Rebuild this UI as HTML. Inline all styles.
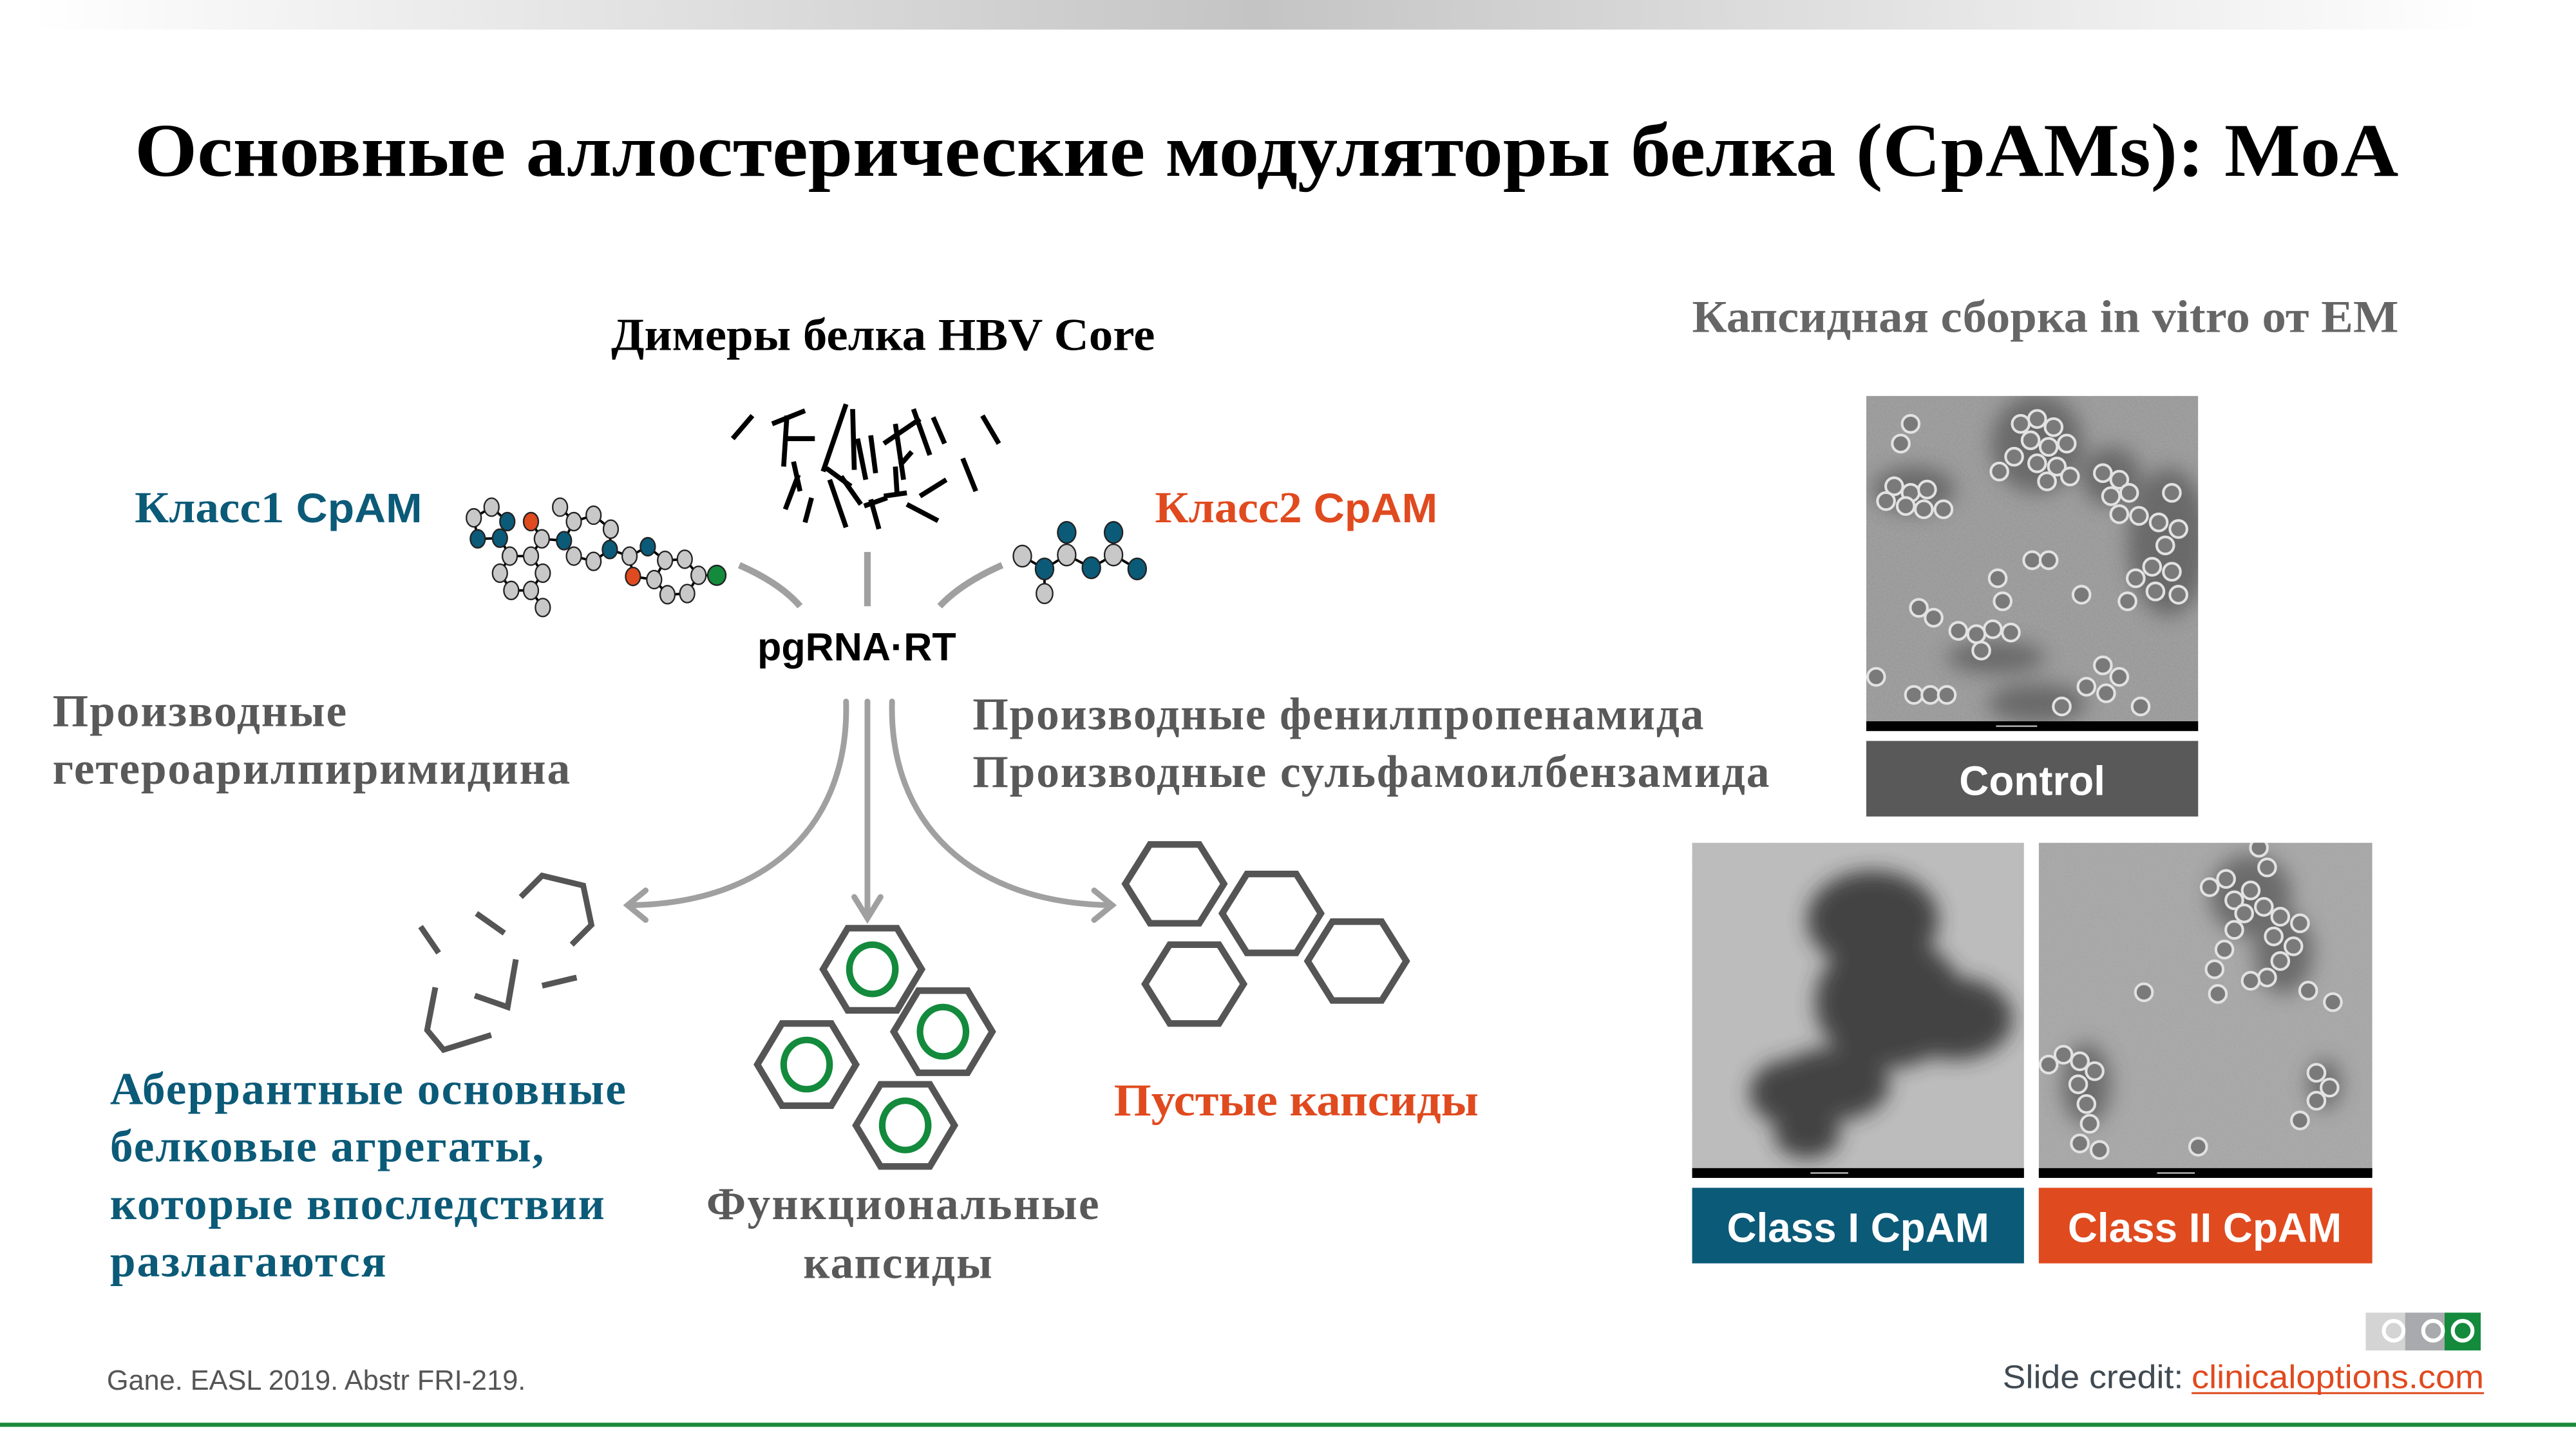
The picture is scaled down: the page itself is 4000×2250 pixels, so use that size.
<!DOCTYPE html>
<html><head><meta charset="utf-8"><style>
html,body{margin:0;padding:0;background:#fff;width:4000px;height:2250px;overflow:hidden}
svg{display:block}
.ser{font-family:"Liberation Serif",serif;font-weight:bold}
.san{font-family:"Liberation Sans",sans-serif;font-weight:bold}
</style></head><body>
<svg width="4000" height="2250" viewBox="0 0 1568 882" xmlns="http://www.w3.org/2000/svg">
<defs>
<linearGradient id="tg" x1="0" x2="1" y1="0" y2="0">
<stop offset="0" stop-color="#fff"/><stop offset="0.5" stop-color="#c4c4c4"/><stop offset="1" stop-color="#fff"/>
</linearGradient>
<filter id="noise" x="0" y="0" width="100%" height="100%">
<feTurbulence type="fractalNoise" baseFrequency="0.9" numOctaves="2" seed="3"/>
<feColorMatrix type="matrix" values="0 0 0 0 0.5  0 0 0 0 0.5  0 0 0 0 0.5  0 0 0 0.35 0"/>
</filter>
<filter id="blur6"><feGaussianBlur stdDeviation="6"/></filter>
<clipPath id="c1"><rect x="1136" y="241" width="202" height="198"/></clipPath>
<clipPath id="c2"><rect x="1030" y="513" width="202" height="198"/></clipPath>
<clipPath id="c3"><rect x="1241" y="513" width="203" height="198"/></clipPath>
<g id="cap"><circle r="5.2" fill="#7a7a7a" stroke="#e2e2e2" stroke-width="1.6"/></g>
</defs>

<rect x="20" y="0" width="1490" height="18" fill="url(#tg)"/>

<text class="ser" x="82" y="107" font-size="46" textLength="1378" lengthAdjust="spacingAndGlyphs" fill="#000">Основные аллостерические модуляторы белка (CpAMs): MoA</text>

<text class="ser" x="372" y="213" font-size="28" textLength="331" lengthAdjust="spacingAndGlyphs" fill="#000">Димеры белка HBV Core</text>

<!-- dimer sticks -->
<g stroke="#000" stroke-width="3" stroke-linecap="butt">
<line x1="458" y1="253" x2="446" y2="267"/>
<line x1="470" y1="258" x2="490" y2="250"/>
<line x1="479" y1="253" x2="477" y2="284"/>
<line x1="478" y1="267" x2="496" y2="267"/>
<line x1="515" y1="246" x2="501" y2="287"/>
<line x1="519" y1="249" x2="520" y2="286"/>
<line x1="522" y1="267" x2="527" y2="292"/>
<line x1="530" y1="265" x2="533" y2="288"/>
<line x1="545" y1="258" x2="550" y2="292"/>
<line x1="538" y1="270" x2="560" y2="255"/>
<line x1="556" y1="249" x2="566" y2="277"/>
<line x1="568" y1="254" x2="575" y2="270"/>
<line x1="598" y1="253" x2="608" y2="270"/>
<line x1="483" y1="281" x2="487" y2="299"/>
<line x1="486" y1="289" x2="478" y2="310"/>
<line x1="503" y1="285" x2="518" y2="296"/>
<line x1="512" y1="290" x2="524" y2="307"/>
<line x1="505" y1="292" x2="515" y2="321"/>
<line x1="494" y1="303" x2="490" y2="318"/>
<line x1="545" y1="284" x2="546" y2="300"/>
<line x1="538" y1="302" x2="552" y2="300"/>
<line x1="548" y1="283" x2="555" y2="275"/>
<line x1="586" y1="279" x2="594" y2="299"/>
<line x1="526" y1="308" x2="540" y2="303"/>
<line x1="530" y1="304" x2="535" y2="322"/>
<line x1="560" y1="302" x2="576" y2="292"/>
<line x1="552" y1="307" x2="571" y2="317"/>
</g>

<text x="82" y="318" font-size="27" fill="#0b5a78" textLength="175" lengthAdjust="spacingAndGlyphs"><tspan class="ser">Класс1 </tspan><tspan class="san" font-size="25">CpAM</tspan></text>
<text x="703" y="318" font-size="27" fill="#e04a1f" textLength="172" lengthAdjust="spacingAndGlyphs"><tspan class="ser">Класс2 </tspan><tspan class="san" font-size="25">CpAM</tspan></text>

<!-- molecule 1 -->
<g stroke="#000" stroke-width="1.5" fill="none">
<path d="M299.2,308.7 L288.4,315.2 L290.8,328 L304.3,327.6 L308.8,317.5 Z"/>
<path d="M304.3,327.6 L310.3,338.5 L323.2,338.5 L329.8,328 L323.2,317.5 M329.8,328 L343.3,329.1"/>
<path d="M310.3,338.5 L304.3,348.9 L311.2,359.4 L323.2,359.4 L330.4,348.9 L323.2,338.5 M323.2,359.4 L330.4,369.8"/>
<path d="M343.3,329.1 L349.3,317.5 L340.9,308.7 M349.3,317.5 L361.3,313.6 L371.8,322.1 L371.2,334.5 L361.3,341.7 L349.3,338.5 L343.3,329.1"/>
<path d="M371.2,334.5 L383.2,338.5 L394.3,332.8 L404.8,341.1 L398.2,352.8 L385.3,350.9 L383.2,338.5"/>
<path d="M404.8,341.1 L416.8,340.4 L425.2,350.2 L418.3,361.3 L406.3,362 L398.2,352.8 M425.2,350.2 L436.3,350.2"/>
</g>
<g stroke="#222" stroke-width="0.9">
<ellipse cx="299.2" cy="308.7" rx="4.5" ry="5.5" fill="#c8c8c8"/>
<ellipse cx="288.4" cy="315.2" rx="4.5" ry="5.5" fill="#c8c8c8"/>
<ellipse cx="290.8" cy="328" rx="4.5" ry="5.5" fill="#0b5a78"/>
<ellipse cx="304.3" cy="327.6" rx="4.5" ry="5.5" fill="#0b5a78"/>
<ellipse cx="308.8" cy="317.5" rx="4.5" ry="5.5" fill="#0b5a78"/>
<ellipse cx="323.2" cy="317.5" rx="4.5" ry="5.5" fill="#e04a1f"/>
<ellipse cx="329.8" cy="328" rx="4.5" ry="5.5" fill="#c8c8c8"/>
<ellipse cx="310.3" cy="338.5" rx="4.5" ry="5.5" fill="#c8c8c8"/>
<ellipse cx="323.2" cy="338.5" rx="4.5" ry="5.5" fill="#c8c8c8"/>
<ellipse cx="304.3" cy="348.9" rx="4.5" ry="5.5" fill="#c8c8c8"/>
<ellipse cx="330.4" cy="348.9" rx="4.5" ry="5.5" fill="#c8c8c8"/>
<ellipse cx="311.2" cy="359.4" rx="4.5" ry="5.5" fill="#c8c8c8"/>
<ellipse cx="323.2" cy="359.4" rx="4.5" ry="5.5" fill="#c8c8c8"/>
<ellipse cx="330.4" cy="369.8" rx="4.5" ry="5.5" fill="#c8c8c8"/>
<ellipse cx="340.9" cy="308.7" rx="4.5" ry="5.5" fill="#c8c8c8"/>
<ellipse cx="349.3" cy="317.5" rx="4.5" ry="5.5" fill="#c8c8c8"/>
<ellipse cx="361.3" cy="313.6" rx="4.5" ry="5.5" fill="#c8c8c8"/>
<ellipse cx="371.8" cy="322.1" rx="4.5" ry="5.5" fill="#c8c8c8"/>
<ellipse cx="343.3" cy="329.1" rx="4.5" ry="5.5" fill="#0b5a78"/>
<ellipse cx="349.3" cy="338.5" rx="4.5" ry="5.5" fill="#c8c8c8"/>
<ellipse cx="361.3" cy="341.7" rx="4.5" ry="5.5" fill="#c8c8c8"/>
<ellipse cx="371.2" cy="334.5" rx="4.5" ry="5.5" fill="#0b5a78"/>
<ellipse cx="383.2" cy="338.5" rx="4.5" ry="5.5" fill="#c8c8c8"/>
<ellipse cx="394.3" cy="332.8" rx="4.5" ry="5.5" fill="#0b5a78"/>
<ellipse cx="404.8" cy="341.1" rx="4.5" ry="5.5" fill="#c8c8c8"/>
<ellipse cx="416.8" cy="340.4" rx="4.5" ry="5.5" fill="#c8c8c8"/>
<ellipse cx="385.3" cy="350.9" rx="4.5" ry="5.5" fill="#e04a1f"/>
<ellipse cx="398.2" cy="352.8" rx="4.5" ry="5.5" fill="#c8c8c8"/>
<ellipse cx="406.3" cy="362" rx="4.5" ry="5.5" fill="#c8c8c8"/>
<ellipse cx="418.3" cy="361.3" rx="4.5" ry="5.5" fill="#c8c8c8"/>
<ellipse cx="425.2" cy="350.2" rx="4.5" ry="5.5" fill="#c8c8c8"/>
<ellipse cx="436.3" cy="350.2" rx="5.5" ry="6" fill="#138a3c"/>
</g>

<!-- molecule 2 -->
<g stroke="#000" stroke-width="1.5">
<path d="M622.3,338.5 L635.8,346.3 L635.8,361.3 M635.8,346.3 L649.3,337.8 L649.3,324.1 M649.3,337.8 L664.3,345.6 L677.8,337.8 L677.8,324.1 M677.8,337.8 L692.2,346.3" fill="none"/>
</g>
<g stroke="#222" stroke-width="0.9">
<ellipse cx="622.3" cy="338.5" rx="5.5" ry="6.5" fill="#c8c8c8"/>
<ellipse cx="635.8" cy="346.3" rx="5.5" ry="6.5" fill="#0b5a78"/>
<ellipse cx="635.8" cy="361.3" rx="5" ry="6" fill="#c8c8c8"/>
<ellipse cx="649.3" cy="324.1" rx="5.5" ry="6.5" fill="#0b5a78"/>
<ellipse cx="649.3" cy="337.8" rx="5.5" ry="6.5" fill="#c8c8c8"/>
<ellipse cx="664.3" cy="345.6" rx="5.5" ry="6.5" fill="#0b5a78"/>
<ellipse cx="677.8" cy="324.1" rx="5.5" ry="6.5" fill="#0b5a78"/>
<ellipse cx="677.8" cy="337.8" rx="5.5" ry="6.5" fill="#c8c8c8"/>
<ellipse cx="692.2" cy="346.3" rx="5.5" ry="6.5" fill="#0b5a78"/>
</g>

<!-- connectors top -->
<g stroke="#a0a0a0" stroke-width="4" fill="none">
<path d="M450,344 Q475,355 487,369"/>
<line x1="528" y1="336" x2="528" y2="369"/>
<path d="M610,344 Q585,355 572,369"/>
</g>

<text class="san" x="461" y="402" font-size="24" textLength="121" lengthAdjust="spacingAndGlyphs" fill="#000">pgRNA·RT</text>

<text class="ser" font-size="28" fill="#595959" lengthAdjust="spacingAndGlyphs"><tspan x="32" y="442" textLength="179">Производные</tspan><tspan x="32" y="477" textLength="315">гетероарилпиримидина</tspan></text>
<text class="ser" font-size="28" fill="#595959" lengthAdjust="spacingAndGlyphs"><tspan x="592" y="444" textLength="445">Производные фенилпропенамида</tspan><tspan x="592" y="479" textLength="485">Производные сульфамоилбензамида</tspan></text>

<!-- arrows -->
<g stroke="#a0a0a0" stroke-width="3.5" fill="none" stroke-linecap="round">
<path d="M515,427 C517,500 470,550 383,551"/>
<path d="M393,542 L382,551 L393,560"/>
<line x1="528" y1="427" x2="528" y2="557"/>
<path d="M520,546 L528,559 L536,546"/>
<path d="M543,427 C541,500 590,550 677,551"/>
<path d="M666,542 L677,551 L666,560"/>
</g>

<!-- broken pieces -->
<g stroke="#555" stroke-width="3.5" fill="none">
<path d="M317,546 L330,533 L355,539 L360,563 L348,575"/>
<path d="M290,556 L307,568"/>
<path d="M256,564 L267,580"/>
<path d="M314,584 L309,613 L289,606"/>
<path d="M330,600 L351,595"/>
<path d="M265,601 L260,627 L270,639 L299,630"/>
</g>

<!-- functional capsids -->
<g stroke="#555" stroke-width="4" fill="none">
<polygon points="501,590 516,565 546,565 561,590 546,615 516,615"/>
<polygon points="544,628 559,603 589,603 604,628 589,653 559,653"/>
<polygon points="461,648 476,623 506,623 521,648 506,673 476,673"/>
<polygon points="521,685 536,660 566,660 581,685 566,710 536,710"/>
</g>
<g stroke="#138a3c" stroke-width="4" fill="none">
<ellipse cx="531" cy="590" rx="14" ry="15"/>
<ellipse cx="574" cy="628" rx="14" ry="15"/>
<ellipse cx="491" cy="648" rx="14" ry="15"/>
<ellipse cx="551" cy="685" rx="14" ry="15"/>
</g>

<!-- empty capsids -->
<g stroke="#555" stroke-width="4" fill="none">
<polygon points="685,538 700,514 730,514 745,538 730,562 700,562"/>
<polygon points="744,556 759,532 789,532 804,556 789,580 759,580"/>
<polygon points="697,599 712,575 742,575 757,599 742,623 712,623"/>
<polygon points="796,585 811,561 841,561 856,585 841,609 811,609"/>
</g>

<text class="ser" font-size="28" fill="#0b5a78" lengthAdjust="spacingAndGlyphs"><tspan x="67" y="672" textLength="314">Аберрантные основные</tspan><tspan x="67" y="707" textLength="264">белковые агрегаты,</tspan><tspan x="67" y="742" textLength="301">которые впоследствии</tspan><tspan x="67" y="777" textLength="168">разлагаются</tspan></text>
<text class="ser" font-size="28" fill="#595959" lengthAdjust="spacingAndGlyphs"><tspan x="430" y="742" textLength="239">Функциональные</tspan><tspan x="489" y="778" textLength="115">капсиды</tspan></text>
<text class="ser" x="678" y="679" font-size="28" textLength="222" lengthAdjust="spacingAndGlyphs" fill="#e04a1f">Пустые капсиды</text>

<text class="ser" x="1030" y="202" font-size="28" textLength="430" lengthAdjust="spacingAndGlyphs" fill="#666">Капсидная сборка in vitro от EM</text>

<!-- Control image -->
<g clip-path="url(#c1)">
<rect x="1136" y="241" width="202" height="198" fill="#969696"/>
<rect x="1136" y="241" width="202" height="198" filter="url(#noise)"/>
<g fill="#4a4a4a" filter="url(#blur6)" opacity="0.6">
<ellipse cx="1240" cy="270" rx="28" ry="30"/><ellipse cx="1320" cy="330" rx="25" ry="45"/>
<ellipse cx="1165" cy="298" rx="25" ry="14"/><ellipse cx="1285" cy="290" rx="18" ry="18"/>
<ellipse cx="1215" cy="400" rx="30" ry="10"/><ellipse cx="1240" cy="428" rx="30" ry="12"/>
</g>
<g>
<use href="#cap" x="1230" y="258"/><use href="#cap" x="1240" y="255"/><use href="#cap" x="1250" y="260"/><use href="#cap" x="1236" y="268"/><use href="#cap" x="1247" y="272"/><use href="#cap" x="1258" y="270"/><use href="#cap" x="1226" y="278"/><use href="#cap" x="1240" y="282"/><use href="#cap" x="1252" y="284"/><use href="#cap" x="1217" y="287"/><use href="#cap" x="1246" y="293"/><use href="#cap" x="1260" y="290"/>
<use href="#cap" x="1163" y="258"/><use href="#cap" x="1157" y="270"/>
<use href="#cap" x="1153" y="296"/><use href="#cap" x="1163" y="300"/><use href="#cap" x="1173" y="298"/><use href="#cap" x="1160" y="308"/><use href="#cap" x="1171" y="310"/><use href="#cap" x="1183" y="310"/><use href="#cap" x="1148" y="305"/>
<use href="#cap" x="1280" y="288"/><use href="#cap" x="1290" y="292"/><use href="#cap" x="1285" y="302"/><use href="#cap" x="1296" y="300"/><use href="#cap" x="1290" y="313"/><use href="#cap" x="1302" y="314"/>
<use href="#cap" x="1322" y="300"/><use href="#cap" x="1314" y="318"/><use href="#cap" x="1326" y="322"/><use href="#cap" x="1318" y="332"/><use href="#cap" x="1310" y="345"/><use href="#cap" x="1322" y="348"/><use href="#cap" x="1300" y="352"/><use href="#cap" x="1312" y="360"/><use href="#cap" x="1326" y="362"/><use href="#cap" x="1295" y="366"/>
<use href="#cap" x="1237" y="341"/><use href="#cap" x="1247" y="341"/>
<use href="#cap" x="1216" y="352"/><use href="#cap" x="1219" y="366"/><use href="#cap" x="1267" y="362"/>
<use href="#cap" x="1168" y="370"/><use href="#cap" x="1177" y="376"/>
<use href="#cap" x="1192" y="384"/><use href="#cap" x="1203" y="386"/><use href="#cap" x="1213" y="383"/><use href="#cap" x="1224" y="385"/><use href="#cap" x="1206" y="396"/>
<use href="#cap" x="1280" y="405"/><use href="#cap" x="1290" y="412"/><use href="#cap" x="1270" y="418"/><use href="#cap" x="1282" y="422"/><use href="#cap" x="1255" y="430"/><use href="#cap" x="1303" y="430"/>
<use href="#cap" x="1165" y="423"/><use href="#cap" x="1175" y="423"/><use href="#cap" x="1185" y="423"/><use href="#cap" x="1142" y="412"/>
</g>
</g>
<rect x="1136" y="439" width="202" height="6" fill="#000"/>
<line x1="1215" y1="442" x2="1240" y2="442" stroke="#ccc" stroke-width="0.8"/>
<rect x="1136" y="451" width="202" height="46" fill="#595959"/>
<text class="san" x="1237" y="484" font-size="25" text-anchor="middle" fill="#fff">Control</text>

<!-- Class I image -->
<g clip-path="url(#c2)">
<rect x="1030" y="513" width="202" height="198" fill="#bcbcbc"/>
<rect x="1030" y="513" width="202" height="198" filter="url(#noise)"/>
<g fill="#2e2e2e" filter="url(#blur6)" opacity="0.85">
<ellipse cx="1140" cy="560" rx="40" ry="30"/>
<ellipse cx="1150" cy="610" rx="45" ry="40"/>
<ellipse cx="1190" cy="620" rx="35" ry="25"/>
<ellipse cx="1115" cy="660" rx="35" ry="22"/>
<ellipse cx="1090" cy="665" rx="25" ry="20"/>
<ellipse cx="1100" cy="690" rx="20" ry="15"/>
</g>
</g>
<rect x="1030" y="711" width="202" height="6" fill="#000"/>
<line x1="1102" y1="714" x2="1125" y2="714" stroke="#ccc" stroke-width="0.8"/>
<rect x="1030" y="723" width="202" height="46" fill="#0b5a78"/>
<text class="san" x="1131" y="756" font-size="25" text-anchor="middle" fill="#fff">Class I CpAM</text>

<!-- Class II image -->
<g clip-path="url(#c3)">
<rect x="1241" y="513" width="203" height="198" fill="#a4a4a4"/>
<rect x="1241" y="513" width="203" height="198" filter="url(#noise)"/>
<g fill="#444" filter="url(#blur6)" opacity="0.6">
<ellipse cx="1370" cy="545" rx="25" ry="25"/><ellipse cx="1390" cy="580" rx="18" ry="25"/>
<ellipse cx="1270" cy="660" rx="15" ry="25"/><ellipse cx="1415" cy="660" rx="10" ry="15"/>
</g>
<g>
<use href="#cap" x="1345" y="540"/><use href="#cap" x="1355" y="535"/><use href="#cap" x="1360" y="548"/><use href="#cap" x="1370" y="542"/><use href="#cap" x="1366" y="556"/><use href="#cap" x="1378" y="552"/><use href="#cap" x="1388" y="558"/><use href="#cap" x="1384" y="570"/><use href="#cap" x="1396" y="576"/><use href="#cap" x="1388" y="585"/><use href="#cap" x="1380" y="595"/><use href="#cap" x="1370" y="597"/><use href="#cap" x="1360" y="566"/><use href="#cap" x="1354" y="578"/><use href="#cap" x="1348" y="590"/><use href="#cap" x="1400" y="562"/><use href="#cap" x="1375" y="516"/><use href="#cap" x="1380" y="528"/>
<use href="#cap" x="1305" y="604"/><use href="#cap" x="1350" y="605"/><use href="#cap" x="1405" y="603"/><use href="#cap" x="1420" y="610"/>
<use href="#cap" x="1247" y="648"/><use href="#cap" x="1256" y="642"/><use href="#cap" x="1266" y="646"/><use href="#cap" x="1275" y="652"/><use href="#cap" x="1265" y="660"/><use href="#cap" x="1270" y="672"/><use href="#cap" x="1272" y="684"/><use href="#cap" x="1266" y="696"/><use href="#cap" x="1278" y="700"/><use href="#cap" x="1338" y="698"/>
<use href="#cap" x="1410" y="653"/><use href="#cap" x="1418" y="662"/><use href="#cap" x="1410" y="670"/><use href="#cap" x="1400" y="682"/>
</g>
</g>
<rect x="1241" y="711" width="203" height="6" fill="#000"/>
<line x1="1313" y1="714" x2="1336" y2="714" stroke="#ccc" stroke-width="0.8"/>
<rect x="1241" y="723" width="203" height="46" fill="#e04a1f"/>
<text class="san" x="1342" y="756" font-size="25" text-anchor="middle" fill="#fff">Class II CpAM</text>

<!-- logo -->
<rect x="1440" y="799" width="24" height="23" fill="#d4d4d4"/>
<rect x="1464" y="799" width="24" height="23" fill="#a8aaad"/>
<rect x="1488" y="799" width="22" height="23" fill="#138a3c"/>
<circle cx="1457" cy="810" r="6" fill="none" stroke="#fff" stroke-width="2.4"/>
<circle cx="1481" cy="810" r="6" fill="none" stroke="#fff" stroke-width="2.4"/>
<circle cx="1499" cy="810" r="6" fill="none" stroke="#fff" stroke-width="2.4"/>

<text x="1219" y="845" font-size="20" font-family="Liberation Sans, sans-serif" fill="#404a52" textLength="110" lengthAdjust="spacingAndGlyphs">Slide credit:</text>
<text x="1334" y="845" font-size="20" font-family="Liberation Sans, sans-serif" fill="#e04a1f" textLength="178" lengthAdjust="spacingAndGlyphs">clinicaloptions.com</text>
<line x1="1334" y1="848" x2="1512" y2="848" stroke="#e04a1f" stroke-width="1.2"/>

<text x="65" y="846" font-size="17" font-family="Liberation Sans, sans-serif" fill="#555" textLength="255" lengthAdjust="spacingAndGlyphs">Gane. EASL 2019. Abstr FRI-219.</text>

<rect x="0" y="866" width="1568" height="2.5" fill="#1a8a3a"/>
</svg>
</body></html>
